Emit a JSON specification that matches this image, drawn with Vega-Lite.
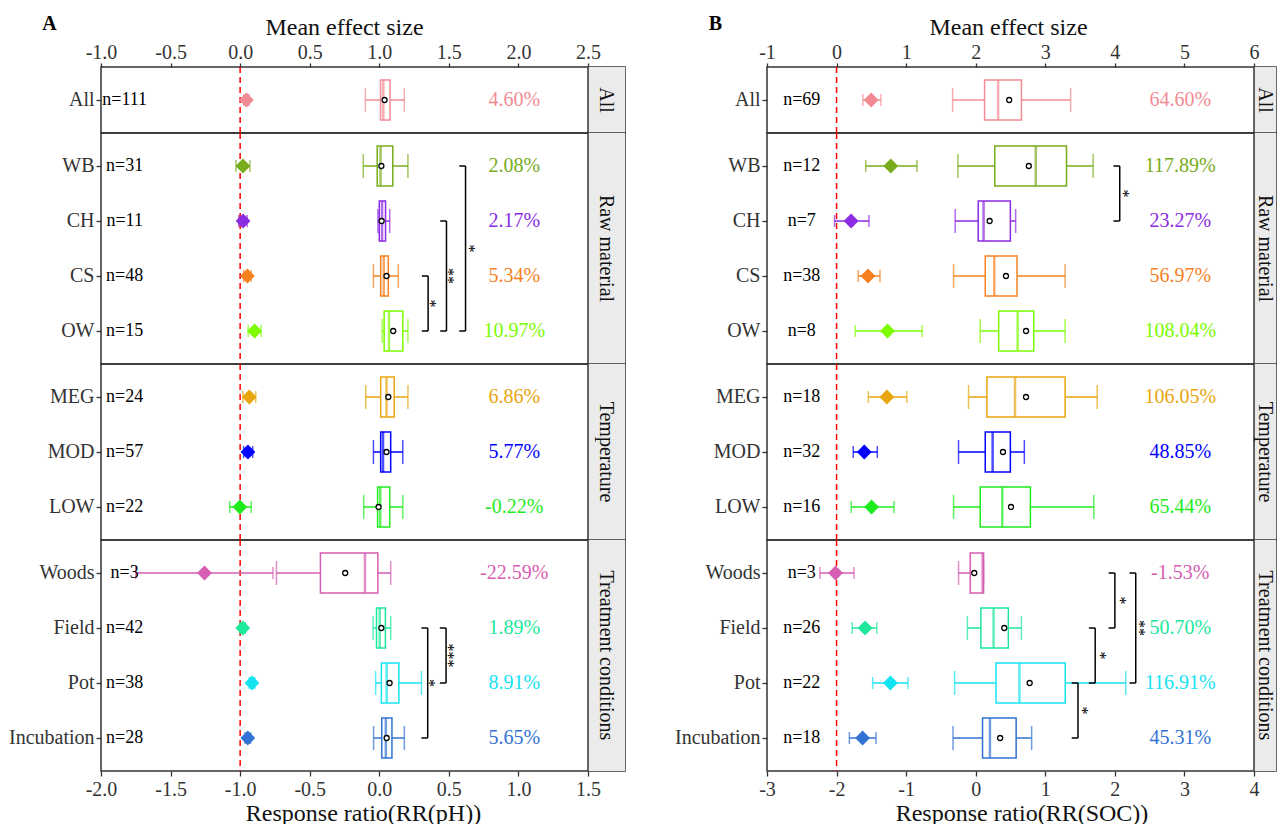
{
"$schema":"https://vega.github.io/schema/vega-lite/v6.json",
"padding":{"left":7,"top":12,"right":0,"bottom":0},
"datasets":{
"strips":[{"grp":"All"},{"grp":"Raw material"},{"grp":"Temperature"},{"grp":"Treatment conditions"}],
"A":[
{"grp":"All","cat":"All","n":"n=111","pct":"4.60%","es":0.045,"lo":0.025,"hi":0.065,"lw":-0.10,"q1":0.009,"med":0.029,"q3":0.077,"uw":0.18,"mean":0.038},
{"grp":"Raw material","cat":"WB","n":"n=31","pct":"2.08%","es":0.02,"lo":-0.03,"hi":0.07,"lw":-0.115,"q1":-0.015,"med":0.009,"q3":0.097,"uw":0.206,"mean":0.015},
{"grp":"Raw material","cat":"CH","n":"n=11","pct":"2.17%","es":0.021,"lo":-0.01,"hi":0.05,"lw":-0.01,"q1":0.0,"med":0.02,"q3":0.045,"uw":0.075,"mean":0.017},
{"grp":"Raw material","cat":"CS","n":"n=48","pct":"5.34%","es":0.052,"lo":0.025,"hi":0.08,"lw":-0.042,"q1":0.01,"med":0.032,"q3":0.065,"uw":0.137,"mean":0.052},
{"grp":"Raw material","cat":"OW","n":"n=15","pct":"10.97%","es":0.104,"lo":0.058,"hi":0.15,"lw":0.02,"q1":0.035,"med":0.07,"q3":0.169,"uw":0.206,"mean":0.1},
{"grp":"Temperature","cat":"MEG","n":"n=24","pct":"6.86%","es":0.066,"lo":0.02,"hi":0.112,"lw":-0.097,"q1":0.01,"med":0.052,"q3":0.107,"uw":0.206,"mean":0.065},
{"grp":"Temperature","cat":"MOD","n":"n=57","pct":"5.77%","es":0.056,"lo":0.025,"hi":0.09,"lw":-0.042,"q1":0.01,"med":0.027,"q3":0.082,"uw":0.169,"mean":0.052},
{"grp":"Temperature","cat":"LOW","n":"n=22","pct":"-0.22%","es":-0.002,"lo":-0.075,"hi":0.08,"lw":-0.112,"q1":-0.012,"med":0.007,"q3":0.075,"uw":0.169,"mean":-0.005},
{"grp":"Treatment conditions","cat":"Woods","n":"n=3","pct":"-22.59%","es":-0.256,"lo":-0.75,"hi":0.236,"lw":-0.739,"q1":-0.423,"med":-0.103,"q3":-0.01,"uw":0.082,"mean":-0.245},
{"grp":"Treatment conditions","cat":"Field","n":"n=42","pct":"1.89%","es":0.019,"lo":0.0,"hi":0.038,"lw":-0.044,"q1":-0.02,"med":0.003,"q3":0.044,"uw":0.082,"mean":0.015},
{"grp":"Treatment conditions","cat":"Pot","n":"n=38","pct":"8.91%","es":0.085,"lo":0.065,"hi":0.105,"lw":-0.026,"q1":0.015,"med":0.053,"q3":0.141,"uw":0.303,"mean":0.074},
{"grp":"Treatment conditions","cat":"Incubation","n":"n=28","pct":"5.65%","es":0.055,"lo":0.035,"hi":0.075,"lw":-0.041,"q1":0.018,"med":0.047,"q3":0.091,"uw":0.18,"mean":0.053}
],
"Abr":[
{"grp":"Raw material","c1":"CS","c2":"OW","bx":0.351,"bx0":0.306,"star":"*","sc":"CS","half":1,"sx":0.365},
{"grp":"Raw material","c1":"CH","c2":"OW","bx":0.483,"bx0":0.438,"star":"**","sc":"CS","half":0,"sx":0.497},
{"grp":"Raw material","c1":"WB","c2":"OW","bx":0.62,"bx0":0.575,"star":"*","sc":"CH","half":1,"sx":0.642},
{"grp":"Treatment conditions","c1":"Field","c2":"Incubation","bx":0.348,"bx0":0.303,"star":"*","sc":"Pot","half":0,"sx":0.36},
{"grp":"Treatment conditions","c1":"Field","c2":"Pot","bx":0.48,"bx0":0.435,"star":"***","sc":"Field","half":1,"sx":0.495}
],
"B":[
{"grp":"All","cat":"All","n":"n=69","pct":"64.60%","es":0.498,"lo":0.378,"hi":0.637,"lw":-0.332,"q1":0.127,"med":0.322,"q3":0.657,"uw":1.364,"mean":0.481},
{"grp":"Raw material","cat":"WB","n":"n=12","pct":"117.89%","es":0.779,"lo":0.419,"hi":1.155,"lw":-0.256,"q1":0.274,"med":0.863,"q3":1.305,"uw":1.688,"mean":0.763},
{"grp":"Raw material","cat":"CH","n":"n=7","pct":"23.27%","es":0.209,"lo":-0.029,"hi":0.466,"lw":-0.295,"q1":0.036,"med":0.113,"q3":0.498,"uw":0.574,"mean":0.2},
{"grp":"Raw material","cat":"CS","n":"n=38","pct":"56.97%","es":0.451,"lo":0.312,"hi":0.624,"lw":-0.319,"q1":0.137,"med":0.267,"q3":0.594,"uw":1.285,"mean":0.435},
{"grp":"Raw material","cat":"OW","n":"n=8","pct":"108.04%","es":0.733,"lo":0.269,"hi":1.23,"lw":0.065,"q1":0.33,"med":0.603,"q3":0.834,"uw":1.285,"mean":0.723},
{"grp":"Temperature","cat":"MEG","n":"n=18","pct":"106.05%","es":0.723,"lo":0.456,"hi":1.009,"lw":-0.103,"q1":0.161,"med":0.565,"q3":1.285,"uw":1.746,"mean":0.723},
{"grp":"Temperature","cat":"MOD","n":"n=32","pct":"48.85%","es":0.398,"lo":0.24,"hi":0.586,"lw":-0.247,"q1":0.137,"med":0.243,"q3":0.498,"uw":0.699,"mean":0.392},
{"grp":"Temperature","cat":"LOW","n":"n=16","pct":"65.44%","es":0.503,"lo":0.211,"hi":0.826,"lw":-0.319,"q1":0.065,"med":0.382,"q3":0.786,"uw":1.698,"mean":0.507},
{"grp":"Treatment conditions","cat":"Woods","n":"n=3","pct":"-1.53%","es":-0.015,"lo":-0.24,"hi":0.25,"lw":-0.247,"q1":-0.079,"med":0.099,"q3":0.113,"uw":0.113,"mean":-0.021},
{"grp":"Treatment conditions","cat":"Field","n":"n=26","pct":"50.70%","es":0.41,"lo":0.225,"hi":0.578,"lw":-0.12,"q1":0.074,"med":0.257,"q3":0.469,"uw":0.657,"mean":0.41},
{"grp":"Treatment conditions","cat":"Pot","n":"n=22","pct":"116.91%","es":0.774,"lo":0.519,"hi":1.026,"lw":-0.303,"q1":0.292,"med":0.628,"q3":1.287,"uw":2.157,"mean":0.775},
{"grp":"Treatment conditions","cat":"Incubation","n":"n=18","pct":"45.31%","es":0.374,"lo":0.184,"hi":0.567,"lw":-0.326,"q1":0.098,"med":0.204,"q3":0.581,"uw":0.804,"mean":0.351}
],
"Bbr":[
{"grp":"Raw material","c1":"WB","c2":"CH","bx":2.07,"bx0":1.98,"star":"*","sc":"WB","half":1,"sx":2.12},
{"grp":"Treatment conditions","c1":"Woods","c2":"Field","bx":2.0,"bx0":1.91,"star":"*","sc":"Woods","half":1,"sx":2.08},
{"grp":"Treatment conditions","c1":"Field","c2":"Pot","bx":1.717,"bx0":1.627,"star":"*","sc":"Field","half":1,"sx":1.785},
{"grp":"Treatment conditions","c1":"Pot","c2":"Incubation","bx":1.47,"bx0":1.38,"star":"*","sc":"Pot","half":1,"sx":1.53},
{"grp":"Treatment conditions","c1":"Woods","c2":"Pot","bx":2.30,"bx0":2.21,"star":"**","sc":"Field","half":0,"sx":2.34}
]
},
"hconcat":[
{"spacing":0,"bounds":"flush","vconcat":[
{"width":524,"height":{"step":55},"resolve":{"scale":{"x":"independent"}},"layer":[
 {"data":{"name":"strips"},"transform":[{"filter":"datum.grp=='All'"}],"layer":[
  {"mark":{"type":"rect","fill":"#EBEBEB"},"encoding":{"x":{"datum":1.5,"type":"quantitative","scale":{"domain":[-2,1.766],"nice":false,"zero":false},"axis":null},"x2":{"datum":1.766}}},
  {"mark":{"type":"rule","color":"#333","strokeWidth":1.5},"encoding":{"x":{"datum":1.5,"type":"quantitative","scale":{"domain":[-2,1.766],"nice":false,"zero":false},"axis":null}}},
  {"mark":{"type":"text","angle":90,"fontSize":20,"color":"#111","baseline":"middle"},"encoding":{"x":{"datum":1.633,"type":"quantitative","scale":{"domain":[-2,1.766],"nice":false,"zero":false},"axis":null},"text":{"field":"grp"}}}]},
 {"data":{"name":"strips"},"transform":[{"filter":"datum.grp=='All'"}],"mark":{"type":"rule","color":"#FF0000","strokeDash":[6,4],"strokeWidth":1.5},"encoding":{"x":{"datum":0,"type":"quantitative","scale":{"domain":[-1,2.766],"nice":false,"zero":false},"axis":null}}},
 {"data":{"name":"A"},"transform":[{"filter":"datum.grp=='All'"}],"encoding":{"y":{"field":"cat","type":"nominal","scale":{"type":"band","domain":["All"],"paddingInner":0,"paddingOuter":0.1},"axis":{"title":"A","titleAngle":0,"titleX":-52,"titleY":-44,"titleAlign":"center","titleBaseline":"middle","titleFontWeight":"bold","titleFontSize":20,"titleColor":"#000","tickSize":5,"labelPadding":2}},"color":{"field":"cat","type":"nominal","scale":{"domain":["All","WB","CH","CS","OW","MEG","MOD","LOW","Woods","Field","Pot","Incubation"],"range":["#F28B93","#77AC1C","#8B2BE2","#F5821F","#7CFC00","#E8A50E","#0000FF","#1EEB1E","#D65DB1","#1DE89B","#14E3F2","#3272D4"]},"legend":null}},"layer":[
  {"mark":{"type":"rule","strokeWidth":1.5},"encoding":{"x":{"field":"lo","type":"quantitative","scale":{"domain":[-1,2.766],"nice":false,"zero":false},"axis":{"orient":"top","values":[-1,-0.5,0,0.5,1,1.5,2,2.5],"labelExpr":"replace(format(datum.value,'.1f'),'\u2212','-')","title":"Mean effect size","titleX":243,"tickSize":4,"labelPadding":1,"titlePadding":3}},"x2":{"field":"hi"}}},
  {"mark":{"type":"tick","size":12,"thickness":1.5},"encoding":{"x":{"field":"lo","type":"quantitative","scale":{"domain":[-1,2.766],"nice":false,"zero":false},"axis":{"orient":"top","values":[-1,-0.5,0,0.5,1,1.5,2,2.5],"labelExpr":"replace(format(datum.value,'.1f'),'\u2212','-')","title":"Mean effect size","titleX":243,"tickSize":4,"labelPadding":1,"titlePadding":3}}}},
  {"mark":{"type":"tick","size":12,"thickness":1.5},"encoding":{"x":{"field":"hi","type":"quantitative","scale":{"domain":[-1,2.766],"nice":false,"zero":false},"axis":{"orient":"top","values":[-1,-0.5,0,0.5,1,1.5,2,2.5],"labelExpr":"replace(format(datum.value,'.1f'),'\u2212','-')","title":"Mean effect size","titleX":243,"tickSize":4,"labelPadding":1,"titlePadding":3}}}},
  {"mark":{"type":"point","shape":"diamond","filled":true,"size":220,"opacity":1},"encoding":{"x":{"field":"es","type":"quantitative","scale":{"domain":[-1,2.766],"nice":false,"zero":false},"axis":{"orient":"top","values":[-1,-0.5,0,0.5,1,1.5,2,2.5],"labelExpr":"replace(format(datum.value,'.1f'),'\u2212','-')","title":"Mean effect size","titleX":243,"tickSize":4,"labelPadding":1,"titlePadding":3}}}}]},
 {"data":{"name":"A"},"transform":[{"filter":"datum.grp=='All'"}],"encoding":{"y":{"field":"cat","type":"nominal","scale":{"type":"band","domain":["All"],"paddingInner":0,"paddingOuter":0.1},"axis":{"title":"A","titleAngle":0,"titleX":-52,"titleY":-44,"titleAlign":"center","titleBaseline":"middle","titleFontWeight":"bold","titleFontSize":20,"titleColor":"#000","tickSize":5,"labelPadding":2}},"color":{"field":"cat","type":"nominal","scale":{"domain":["All","WB","CH","CS","OW","MEG","MOD","LOW","Woods","Field","Pot","Incubation"],"range":["#F28B93","#77AC1C","#8B2BE2","#F5821F","#7CFC00","#E8A50E","#0000FF","#1EEB1E","#D65DB1","#1DE89B","#14E3F2","#3272D4"]},"legend":null}},"layer":[
  {"mark":{"type":"rule","strokeWidth":1.5},"encoding":{"x":{"field":"lw","type":"quantitative","scale":{"domain":[-2,1.766],"nice":false,"zero":false},"axis":null},"x2":{"field":"uw"}}},
  {"mark":{"type":"tick","size":24,"thickness":1.5},"encoding":{"x":{"field":"lw","type":"quantitative","scale":{"domain":[-2,1.766],"nice":false,"zero":false},"axis":null}}},
  {"mark":{"type":"tick","size":24,"thickness":1.5},"encoding":{"x":{"field":"uw","type":"quantitative","scale":{"domain":[-2,1.766],"nice":false,"zero":false},"axis":null}}},
  {"mark":{"type":"bar","size":40,"strokeWidth":1.5},"encoding":{"x":{"field":"q1","type":"quantitative","scale":{"domain":[-2,1.766],"nice":false,"zero":false},"axis":null},"x2":{"field":"q3"},"fill":{"value":"white"},"stroke":{"field":"cat","type":"nominal","scale":{"domain":["All","WB","CH","CS","OW","MEG","MOD","LOW","Woods","Field","Pot","Incubation"],"range":["#F28B93","#77AC1C","#8B2BE2","#F5821F","#7CFC00","#E8A50E","#0000FF","#1EEB1E","#D65DB1","#1DE89B","#14E3F2","#3272D4"]},"legend":null}}},
  {"mark":{"type":"tick","size":40,"thickness":2.5},"encoding":{"x":{"field":"med","type":"quantitative","scale":{"domain":[-2,1.766],"nice":false,"zero":false},"axis":null}}},
  {"mark":{"type":"point","shape":"circle","size":25,"strokeWidth":1.3,"opacity":1},"encoding":{"x":{"field":"mean","type":"quantitative","scale":{"domain":[-2,1.766],"nice":false,"zero":false},"axis":null},"fill":{"value":"white"},"stroke":{"value":"black"}}},
  {"mark":{"type":"text","fontSize":18},"encoding":{"x":{"datum":-1.83,"type":"quantitative","scale":{"domain":[-2,1.766],"nice":false,"zero":false},"axis":null},"text":{"field":"n"},"color":{"value":"black"}}},
  {"mark":{"type":"text","fontSize":20},"encoding":{"x":{"datum":0.97,"type":"quantitative","scale":{"domain":[-2,1.766],"nice":false,"zero":false},"axis":null},"text":{"field":"pct"}}}]}
]},
{"width":524,"height":{"step":55},"resolve":{"scale":{"x":"independent"}},"layer":[
 {"data":{"name":"strips"},"transform":[{"filter":"datum.grp=='Raw material'"}],"layer":[
  {"mark":{"type":"rect","fill":"#EBEBEB"},"encoding":{"x":{"datum":1.5,"type":"quantitative","scale":{"domain":[-2,1.766],"nice":false,"zero":false},"axis":null},"x2":{"datum":1.766}}},
  {"mark":{"type":"rule","color":"#333","strokeWidth":1.5},"encoding":{"x":{"datum":1.5,"type":"quantitative","scale":{"domain":[-2,1.766],"nice":false,"zero":false},"axis":null}}},
  {"mark":{"type":"text","angle":90,"fontSize":20,"color":"#111","baseline":"middle"},"encoding":{"x":{"datum":1.633,"type":"quantitative","scale":{"domain":[-2,1.766],"nice":false,"zero":false},"axis":null},"text":{"field":"grp"}}}]},
 {"data":{"name":"strips"},"transform":[{"filter":"datum.grp=='Raw material'"}],"mark":{"type":"rule","color":"#FF0000","strokeDash":[6,4],"strokeWidth":1.5},"encoding":{"x":{"datum":0,"type":"quantitative","scale":{"domain":[-1,2.766],"nice":false,"zero":false},"axis":null}}},
 {"data":{"name":"A"},"transform":[{"filter":"datum.grp=='Raw material'"}],"encoding":{"y":{"field":"cat","type":"nominal","scale":{"type":"band","domain":["WB","CH","CS","OW"],"paddingInner":0,"paddingOuter":0.1},"axis":{"title":null,"tickSize":5,"labelPadding":2}},"color":{"field":"cat","type":"nominal","scale":{"domain":["All","WB","CH","CS","OW","MEG","MOD","LOW","Woods","Field","Pot","Incubation"],"range":["#F28B93","#77AC1C","#8B2BE2","#F5821F","#7CFC00","#E8A50E","#0000FF","#1EEB1E","#D65DB1","#1DE89B","#14E3F2","#3272D4"]},"legend":null}},"layer":[
  {"mark":{"type":"rule","strokeWidth":1.5},"encoding":{"x":{"field":"lo","type":"quantitative","scale":{"domain":[-1,2.766],"nice":false,"zero":false},"axis":null},"x2":{"field":"hi"}}},
  {"mark":{"type":"tick","size":12,"thickness":1.5},"encoding":{"x":{"field":"lo","type":"quantitative","scale":{"domain":[-1,2.766],"nice":false,"zero":false},"axis":null}}},
  {"mark":{"type":"tick","size":12,"thickness":1.5},"encoding":{"x":{"field":"hi","type":"quantitative","scale":{"domain":[-1,2.766],"nice":false,"zero":false},"axis":null}}},
  {"mark":{"type":"point","shape":"diamond","filled":true,"size":220,"opacity":1},"encoding":{"x":{"field":"es","type":"quantitative","scale":{"domain":[-1,2.766],"nice":false,"zero":false},"axis":null}}}]},
 {"data":{"name":"A"},"transform":[{"filter":"datum.grp=='Raw material'"}],"encoding":{"y":{"field":"cat","type":"nominal","scale":{"type":"band","domain":["WB","CH","CS","OW"],"paddingInner":0,"paddingOuter":0.1},"axis":{"title":null,"tickSize":5,"labelPadding":2}},"color":{"field":"cat","type":"nominal","scale":{"domain":["All","WB","CH","CS","OW","MEG","MOD","LOW","Woods","Field","Pot","Incubation"],"range":["#F28B93","#77AC1C","#8B2BE2","#F5821F","#7CFC00","#E8A50E","#0000FF","#1EEB1E","#D65DB1","#1DE89B","#14E3F2","#3272D4"]},"legend":null}},"layer":[
  {"mark":{"type":"rule","strokeWidth":1.5},"encoding":{"x":{"field":"lw","type":"quantitative","scale":{"domain":[-2,1.766],"nice":false,"zero":false},"axis":null},"x2":{"field":"uw"}}},
  {"mark":{"type":"tick","size":24,"thickness":1.5},"encoding":{"x":{"field":"lw","type":"quantitative","scale":{"domain":[-2,1.766],"nice":false,"zero":false},"axis":null}}},
  {"mark":{"type":"tick","size":24,"thickness":1.5},"encoding":{"x":{"field":"uw","type":"quantitative","scale":{"domain":[-2,1.766],"nice":false,"zero":false},"axis":null}}},
  {"mark":{"type":"bar","size":40,"strokeWidth":1.5},"encoding":{"x":{"field":"q1","type":"quantitative","scale":{"domain":[-2,1.766],"nice":false,"zero":false},"axis":null},"x2":{"field":"q3"},"fill":{"value":"white"},"stroke":{"field":"cat","type":"nominal","scale":{"domain":["All","WB","CH","CS","OW","MEG","MOD","LOW","Woods","Field","Pot","Incubation"],"range":["#F28B93","#77AC1C","#8B2BE2","#F5821F","#7CFC00","#E8A50E","#0000FF","#1EEB1E","#D65DB1","#1DE89B","#14E3F2","#3272D4"]},"legend":null}}},
  {"mark":{"type":"tick","size":40,"thickness":2.5},"encoding":{"x":{"field":"med","type":"quantitative","scale":{"domain":[-2,1.766],"nice":false,"zero":false},"axis":null}}},
  {"mark":{"type":"point","shape":"circle","size":25,"strokeWidth":1.3,"opacity":1},"encoding":{"x":{"field":"mean","type":"quantitative","scale":{"domain":[-2,1.766],"nice":false,"zero":false},"axis":null},"fill":{"value":"white"},"stroke":{"value":"black"}}},
  {"mark":{"type":"text","fontSize":18},"encoding":{"x":{"datum":-1.83,"type":"quantitative","scale":{"domain":[-2,1.766],"nice":false,"zero":false},"axis":null},"text":{"field":"n"},"color":{"value":"black"}}},
  {"mark":{"type":"text","fontSize":20},"encoding":{"x":{"datum":0.97,"type":"quantitative","scale":{"domain":[-2,1.766],"nice":false,"zero":false},"axis":null},"text":{"field":"pct"}}},
  {"data":{"name":"Abr"},"transform":[{"filter":"datum.grp=='Raw material'"}],"layer":[
   {"mark":{"type":"rule","strokeWidth":1.5},"encoding":{"x":{"field":"bx","type":"quantitative","scale":{"domain":[-2,1.766],"nice":false,"zero":false},"axis":null},"y":{"field":"c1","type":"nominal","scale":{"type":"band","domain":["WB","CH","CS","OW"],"paddingInner":0,"paddingOuter":0.1},"axis":{"title":null,"tickSize":5,"labelPadding":2}},"y2":{"field":"c2"},"color":{"value":"black"}}},
   {"mark":{"type":"rule","strokeWidth":1.5},"encoding":{"x":{"field":"bx0","type":"quantitative","scale":{"domain":[-2,1.766],"nice":false,"zero":false},"axis":null},"x2":{"field":"bx"},"y":{"field":"c1","type":"nominal","scale":{"type":"band","domain":["WB","CH","CS","OW"],"paddingInner":0,"paddingOuter":0.1},"axis":{"title":null,"tickSize":5,"labelPadding":2}},"color":{"value":"black"}}},
   {"mark":{"type":"rule","strokeWidth":1.5},"encoding":{"x":{"field":"bx0","type":"quantitative","scale":{"domain":[-2,1.766],"nice":false,"zero":false},"axis":null},"x2":{"field":"bx"},"y":{"field":"c2","type":"nominal","scale":{"type":"band","domain":["WB","CH","CS","OW"],"paddingInner":0,"paddingOuter":0.1},"axis":{"title":null,"tickSize":5,"labelPadding":2}},"color":{"value":"black"}}},
   {"transform":[{"filter":"datum.half==0"}],"mark":{"type":"text","fontSize":16,"angle":90,"baseline":"middle"},"encoding":{"x":{"field":"sx","type":"quantitative","scale":{"domain":[-2,1.766],"nice":false,"zero":false},"axis":null},"y":{"field":"sc","type":"nominal","scale":{"type":"band","domain":["WB","CH","CS","OW"],"paddingInner":0,"paddingOuter":0.1},"axis":{"title":null,"tickSize":5,"labelPadding":2}},"text":{"field":"star"},"color":{"value":"black"}}},
   {"transform":[{"filter":"datum.half==1"}],"mark":{"type":"text","fontSize":16,"angle":90,"baseline":"middle","dx":27.5},"encoding":{"x":{"field":"sx","type":"quantitative","scale":{"domain":[-2,1.766],"nice":false,"zero":false},"axis":null},"y":{"field":"sc","type":"nominal","scale":{"type":"band","domain":["WB","CH","CS","OW"],"paddingInner":0,"paddingOuter":0.1},"axis":{"title":null,"tickSize":5,"labelPadding":2}},"text":{"field":"star"},"color":{"value":"black"}}}]}]}
]},
{"width":524,"height":{"step":55},"resolve":{"scale":{"x":"independent"}},"layer":[
 {"data":{"name":"strips"},"transform":[{"filter":"datum.grp=='Temperature'"}],"layer":[
  {"mark":{"type":"rect","fill":"#EBEBEB"},"encoding":{"x":{"datum":1.5,"type":"quantitative","scale":{"domain":[-2,1.766],"nice":false,"zero":false},"axis":null},"x2":{"datum":1.766}}},
  {"mark":{"type":"rule","color":"#333","strokeWidth":1.5},"encoding":{"x":{"datum":1.5,"type":"quantitative","scale":{"domain":[-2,1.766],"nice":false,"zero":false},"axis":null}}},
  {"mark":{"type":"text","angle":90,"fontSize":20,"color":"#111","baseline":"middle"},"encoding":{"x":{"datum":1.633,"type":"quantitative","scale":{"domain":[-2,1.766],"nice":false,"zero":false},"axis":null},"text":{"field":"grp"}}}]},
 {"data":{"name":"strips"},"transform":[{"filter":"datum.grp=='Temperature'"}],"mark":{"type":"rule","color":"#FF0000","strokeDash":[6,4],"strokeWidth":1.5},"encoding":{"x":{"datum":0,"type":"quantitative","scale":{"domain":[-1,2.766],"nice":false,"zero":false},"axis":null}}},
 {"data":{"name":"A"},"transform":[{"filter":"datum.grp=='Temperature'"}],"encoding":{"y":{"field":"cat","type":"nominal","scale":{"type":"band","domain":["MEG","MOD","LOW"],"paddingInner":0,"paddingOuter":0.1},"axis":{"title":null,"tickSize":5,"labelPadding":2}},"color":{"field":"cat","type":"nominal","scale":{"domain":["All","WB","CH","CS","OW","MEG","MOD","LOW","Woods","Field","Pot","Incubation"],"range":["#F28B93","#77AC1C","#8B2BE2","#F5821F","#7CFC00","#E8A50E","#0000FF","#1EEB1E","#D65DB1","#1DE89B","#14E3F2","#3272D4"]},"legend":null}},"layer":[
  {"mark":{"type":"rule","strokeWidth":1.5},"encoding":{"x":{"field":"lo","type":"quantitative","scale":{"domain":[-1,2.766],"nice":false,"zero":false},"axis":null},"x2":{"field":"hi"}}},
  {"mark":{"type":"tick","size":12,"thickness":1.5},"encoding":{"x":{"field":"lo","type":"quantitative","scale":{"domain":[-1,2.766],"nice":false,"zero":false},"axis":null}}},
  {"mark":{"type":"tick","size":12,"thickness":1.5},"encoding":{"x":{"field":"hi","type":"quantitative","scale":{"domain":[-1,2.766],"nice":false,"zero":false},"axis":null}}},
  {"mark":{"type":"point","shape":"diamond","filled":true,"size":220,"opacity":1},"encoding":{"x":{"field":"es","type":"quantitative","scale":{"domain":[-1,2.766],"nice":false,"zero":false},"axis":null}}}]},
 {"data":{"name":"A"},"transform":[{"filter":"datum.grp=='Temperature'"}],"encoding":{"y":{"field":"cat","type":"nominal","scale":{"type":"band","domain":["MEG","MOD","LOW"],"paddingInner":0,"paddingOuter":0.1},"axis":{"title":null,"tickSize":5,"labelPadding":2}},"color":{"field":"cat","type":"nominal","scale":{"domain":["All","WB","CH","CS","OW","MEG","MOD","LOW","Woods","Field","Pot","Incubation"],"range":["#F28B93","#77AC1C","#8B2BE2","#F5821F","#7CFC00","#E8A50E","#0000FF","#1EEB1E","#D65DB1","#1DE89B","#14E3F2","#3272D4"]},"legend":null}},"layer":[
  {"mark":{"type":"rule","strokeWidth":1.5},"encoding":{"x":{"field":"lw","type":"quantitative","scale":{"domain":[-2,1.766],"nice":false,"zero":false},"axis":null},"x2":{"field":"uw"}}},
  {"mark":{"type":"tick","size":24,"thickness":1.5},"encoding":{"x":{"field":"lw","type":"quantitative","scale":{"domain":[-2,1.766],"nice":false,"zero":false},"axis":null}}},
  {"mark":{"type":"tick","size":24,"thickness":1.5},"encoding":{"x":{"field":"uw","type":"quantitative","scale":{"domain":[-2,1.766],"nice":false,"zero":false},"axis":null}}},
  {"mark":{"type":"bar","size":40,"strokeWidth":1.5},"encoding":{"x":{"field":"q1","type":"quantitative","scale":{"domain":[-2,1.766],"nice":false,"zero":false},"axis":null},"x2":{"field":"q3"},"fill":{"value":"white"},"stroke":{"field":"cat","type":"nominal","scale":{"domain":["All","WB","CH","CS","OW","MEG","MOD","LOW","Woods","Field","Pot","Incubation"],"range":["#F28B93","#77AC1C","#8B2BE2","#F5821F","#7CFC00","#E8A50E","#0000FF","#1EEB1E","#D65DB1","#1DE89B","#14E3F2","#3272D4"]},"legend":null}}},
  {"mark":{"type":"tick","size":40,"thickness":2.5},"encoding":{"x":{"field":"med","type":"quantitative","scale":{"domain":[-2,1.766],"nice":false,"zero":false},"axis":null}}},
  {"mark":{"type":"point","shape":"circle","size":25,"strokeWidth":1.3,"opacity":1},"encoding":{"x":{"field":"mean","type":"quantitative","scale":{"domain":[-2,1.766],"nice":false,"zero":false},"axis":null},"fill":{"value":"white"},"stroke":{"value":"black"}}},
  {"mark":{"type":"text","fontSize":18},"encoding":{"x":{"datum":-1.83,"type":"quantitative","scale":{"domain":[-2,1.766],"nice":false,"zero":false},"axis":null},"text":{"field":"n"},"color":{"value":"black"}}},
  {"mark":{"type":"text","fontSize":20},"encoding":{"x":{"datum":0.97,"type":"quantitative","scale":{"domain":[-2,1.766],"nice":false,"zero":false},"axis":null},"text":{"field":"pct"}}}]}
]},
{"width":524,"height":{"step":55},"resolve":{"scale":{"x":"independent"}},"layer":[
 {"data":{"name":"strips"},"transform":[{"filter":"datum.grp=='Treatment conditions'"}],"layer":[
  {"mark":{"type":"rect","fill":"#EBEBEB"},"encoding":{"x":{"datum":1.5,"type":"quantitative","scale":{"domain":[-2,1.766],"nice":false,"zero":false},"axis":null},"x2":{"datum":1.766}}},
  {"mark":{"type":"rule","color":"#333","strokeWidth":1.5},"encoding":{"x":{"datum":1.5,"type":"quantitative","scale":{"domain":[-2,1.766],"nice":false,"zero":false},"axis":null}}},
  {"mark":{"type":"text","angle":90,"fontSize":20,"color":"#111","baseline":"middle"},"encoding":{"x":{"datum":1.633,"type":"quantitative","scale":{"domain":[-2,1.766],"nice":false,"zero":false},"axis":null},"text":{"field":"grp"}}}]},
 {"data":{"name":"strips"},"transform":[{"filter":"datum.grp=='Treatment conditions'"}],"mark":{"type":"rule","color":"#FF0000","strokeDash":[6,4],"strokeWidth":1.5},"encoding":{"x":{"datum":0,"type":"quantitative","scale":{"domain":[-1,2.766],"nice":false,"zero":false},"axis":null}}},
 {"data":{"name":"A"},"transform":[{"filter":"datum.grp=='Treatment conditions'"}],"encoding":{"y":{"field":"cat","type":"nominal","scale":{"type":"band","domain":["Woods","Field","Pot","Incubation"],"paddingInner":0,"paddingOuter":0.1},"axis":{"title":null,"tickSize":5,"labelPadding":2}},"color":{"field":"cat","type":"nominal","scale":{"domain":["All","WB","CH","CS","OW","MEG","MOD","LOW","Woods","Field","Pot","Incubation"],"range":["#F28B93","#77AC1C","#8B2BE2","#F5821F","#7CFC00","#E8A50E","#0000FF","#1EEB1E","#D65DB1","#1DE89B","#14E3F2","#3272D4"]},"legend":null}},"layer":[
  {"mark":{"type":"rule","strokeWidth":1.5},"encoding":{"x":{"field":"lo","type":"quantitative","scale":{"domain":[-1,2.766],"nice":false,"zero":false},"axis":null},"x2":{"field":"hi"}}},
  {"mark":{"type":"tick","size":12,"thickness":1.5},"encoding":{"x":{"field":"lo","type":"quantitative","scale":{"domain":[-1,2.766],"nice":false,"zero":false},"axis":null}}},
  {"mark":{"type":"tick","size":12,"thickness":1.5},"encoding":{"x":{"field":"hi","type":"quantitative","scale":{"domain":[-1,2.766],"nice":false,"zero":false},"axis":null}}},
  {"mark":{"type":"point","shape":"diamond","filled":true,"size":220,"opacity":1},"encoding":{"x":{"field":"es","type":"quantitative","scale":{"domain":[-1,2.766],"nice":false,"zero":false},"axis":null}}}]},
 {"data":{"name":"A"},"transform":[{"filter":"datum.grp=='Treatment conditions'"}],"encoding":{"y":{"field":"cat","type":"nominal","scale":{"type":"band","domain":["Woods","Field","Pot","Incubation"],"paddingInner":0,"paddingOuter":0.1},"axis":{"title":null,"tickSize":5,"labelPadding":2}},"color":{"field":"cat","type":"nominal","scale":{"domain":["All","WB","CH","CS","OW","MEG","MOD","LOW","Woods","Field","Pot","Incubation"],"range":["#F28B93","#77AC1C","#8B2BE2","#F5821F","#7CFC00","#E8A50E","#0000FF","#1EEB1E","#D65DB1","#1DE89B","#14E3F2","#3272D4"]},"legend":null}},"layer":[
  {"mark":{"type":"rule","strokeWidth":1.5},"encoding":{"x":{"field":"lw","type":"quantitative","scale":{"domain":[-2,1.766],"nice":false,"zero":false},"axis":{"orient":"bottom","values":[-2,-1.5,-1,-0.5,0,0.5,1,1.5],"labelExpr":"replace(format(datum.value,'.1f'),'\u2212','-')","title":"Response ratio(RR(pH))","tickSize":5,"labelPadding":3,"titlePadding":2}},"x2":{"field":"uw"}}},
  {"mark":{"type":"tick","size":24,"thickness":1.5},"encoding":{"x":{"field":"lw","type":"quantitative","scale":{"domain":[-2,1.766],"nice":false,"zero":false},"axis":{"orient":"bottom","values":[-2,-1.5,-1,-0.5,0,0.5,1,1.5],"labelExpr":"replace(format(datum.value,'.1f'),'\u2212','-')","title":"Response ratio(RR(pH))","tickSize":5,"labelPadding":3,"titlePadding":2}}}},
  {"mark":{"type":"tick","size":24,"thickness":1.5},"encoding":{"x":{"field":"uw","type":"quantitative","scale":{"domain":[-2,1.766],"nice":false,"zero":false},"axis":{"orient":"bottom","values":[-2,-1.5,-1,-0.5,0,0.5,1,1.5],"labelExpr":"replace(format(datum.value,'.1f'),'\u2212','-')","title":"Response ratio(RR(pH))","tickSize":5,"labelPadding":3,"titlePadding":2}}}},
  {"mark":{"type":"bar","size":40,"strokeWidth":1.5},"encoding":{"x":{"field":"q1","type":"quantitative","scale":{"domain":[-2,1.766],"nice":false,"zero":false},"axis":{"orient":"bottom","values":[-2,-1.5,-1,-0.5,0,0.5,1,1.5],"labelExpr":"replace(format(datum.value,'.1f'),'\u2212','-')","title":"Response ratio(RR(pH))","tickSize":5,"labelPadding":3,"titlePadding":2}},"x2":{"field":"q3"},"fill":{"value":"white"},"stroke":{"field":"cat","type":"nominal","scale":{"domain":["All","WB","CH","CS","OW","MEG","MOD","LOW","Woods","Field","Pot","Incubation"],"range":["#F28B93","#77AC1C","#8B2BE2","#F5821F","#7CFC00","#E8A50E","#0000FF","#1EEB1E","#D65DB1","#1DE89B","#14E3F2","#3272D4"]},"legend":null}}},
  {"mark":{"type":"tick","size":40,"thickness":2.5},"encoding":{"x":{"field":"med","type":"quantitative","scale":{"domain":[-2,1.766],"nice":false,"zero":false},"axis":{"orient":"bottom","values":[-2,-1.5,-1,-0.5,0,0.5,1,1.5],"labelExpr":"replace(format(datum.value,'.1f'),'\u2212','-')","title":"Response ratio(RR(pH))","tickSize":5,"labelPadding":3,"titlePadding":2}}}},
  {"mark":{"type":"point","shape":"circle","size":25,"strokeWidth":1.3,"opacity":1},"encoding":{"x":{"field":"mean","type":"quantitative","scale":{"domain":[-2,1.766],"nice":false,"zero":false},"axis":{"orient":"bottom","values":[-2,-1.5,-1,-0.5,0,0.5,1,1.5],"labelExpr":"replace(format(datum.value,'.1f'),'\u2212','-')","title":"Response ratio(RR(pH))","tickSize":5,"labelPadding":3,"titlePadding":2}},"fill":{"value":"white"},"stroke":{"value":"black"}}},
  {"mark":{"type":"text","fontSize":18},"encoding":{"x":{"datum":-1.83,"type":"quantitative","scale":{"domain":[-2,1.766],"nice":false,"zero":false},"axis":{"orient":"bottom","values":[-2,-1.5,-1,-0.5,0,0.5,1,1.5],"labelExpr":"replace(format(datum.value,'.1f'),'\u2212','-')","title":"Response ratio(RR(pH))","tickSize":5,"labelPadding":3,"titlePadding":2}},"text":{"field":"n"},"color":{"value":"black"}}},
  {"mark":{"type":"text","fontSize":20},"encoding":{"x":{"datum":0.97,"type":"quantitative","scale":{"domain":[-2,1.766],"nice":false,"zero":false},"axis":{"orient":"bottom","values":[-2,-1.5,-1,-0.5,0,0.5,1,1.5],"labelExpr":"replace(format(datum.value,'.1f'),'\u2212','-')","title":"Response ratio(RR(pH))","tickSize":5,"labelPadding":3,"titlePadding":2}},"text":{"field":"pct"}}},
  {"data":{"name":"Abr"},"transform":[{"filter":"datum.grp=='Treatment conditions'"}],"layer":[
   {"mark":{"type":"rule","strokeWidth":1.5},"encoding":{"x":{"field":"bx","type":"quantitative","scale":{"domain":[-2,1.766],"nice":false,"zero":false},"axis":{"orient":"bottom","values":[-2,-1.5,-1,-0.5,0,0.5,1,1.5],"labelExpr":"replace(format(datum.value,'.1f'),'\u2212','-')","title":"Response ratio(RR(pH))","tickSize":5,"labelPadding":3,"titlePadding":2}},"y":{"field":"c1","type":"nominal","scale":{"type":"band","domain":["Woods","Field","Pot","Incubation"],"paddingInner":0,"paddingOuter":0.1},"axis":{"title":null,"tickSize":5,"labelPadding":2}},"y2":{"field":"c2"},"color":{"value":"black"}}},
   {"mark":{"type":"rule","strokeWidth":1.5},"encoding":{"x":{"field":"bx0","type":"quantitative","scale":{"domain":[-2,1.766],"nice":false,"zero":false},"axis":{"orient":"bottom","values":[-2,-1.5,-1,-0.5,0,0.5,1,1.5],"labelExpr":"replace(format(datum.value,'.1f'),'\u2212','-')","title":"Response ratio(RR(pH))","tickSize":5,"labelPadding":3,"titlePadding":2}},"x2":{"field":"bx"},"y":{"field":"c1","type":"nominal","scale":{"type":"band","domain":["Woods","Field","Pot","Incubation"],"paddingInner":0,"paddingOuter":0.1},"axis":{"title":null,"tickSize":5,"labelPadding":2}},"color":{"value":"black"}}},
   {"mark":{"type":"rule","strokeWidth":1.5},"encoding":{"x":{"field":"bx0","type":"quantitative","scale":{"domain":[-2,1.766],"nice":false,"zero":false},"axis":{"orient":"bottom","values":[-2,-1.5,-1,-0.5,0,0.5,1,1.5],"labelExpr":"replace(format(datum.value,'.1f'),'\u2212','-')","title":"Response ratio(RR(pH))","tickSize":5,"labelPadding":3,"titlePadding":2}},"x2":{"field":"bx"},"y":{"field":"c2","type":"nominal","scale":{"type":"band","domain":["Woods","Field","Pot","Incubation"],"paddingInner":0,"paddingOuter":0.1},"axis":{"title":null,"tickSize":5,"labelPadding":2}},"color":{"value":"black"}}},
   {"transform":[{"filter":"datum.half==0"}],"mark":{"type":"text","fontSize":16,"angle":90,"baseline":"middle"},"encoding":{"x":{"field":"sx","type":"quantitative","scale":{"domain":[-2,1.766],"nice":false,"zero":false},"axis":{"orient":"bottom","values":[-2,-1.5,-1,-0.5,0,0.5,1,1.5],"labelExpr":"replace(format(datum.value,'.1f'),'\u2212','-')","title":"Response ratio(RR(pH))","tickSize":5,"labelPadding":3,"titlePadding":2}},"y":{"field":"sc","type":"nominal","scale":{"type":"band","domain":["Woods","Field","Pot","Incubation"],"paddingInner":0,"paddingOuter":0.1},"axis":{"title":null,"tickSize":5,"labelPadding":2}},"text":{"field":"star"},"color":{"value":"black"}}},
   {"transform":[{"filter":"datum.half==1"}],"mark":{"type":"text","fontSize":16,"angle":90,"baseline":"middle","dx":27.5},"encoding":{"x":{"field":"sx","type":"quantitative","scale":{"domain":[-2,1.766],"nice":false,"zero":false},"axis":{"orient":"bottom","values":[-2,-1.5,-1,-0.5,0,0.5,1,1.5],"labelExpr":"replace(format(datum.value,'.1f'),'\u2212','-')","title":"Response ratio(RR(pH))","tickSize":5,"labelPadding":3,"titlePadding":2}},"y":{"field":"sc","type":"nominal","scale":{"type":"band","domain":["Woods","Field","Pot","Incubation"],"paddingInner":0,"paddingOuter":0.1},"axis":{"title":null,"tickSize":5,"labelPadding":2}},"text":{"field":"star"},"color":{"value":"black"}}}]}]}
]}
]},
{"spacing":0,"bounds":"flush","vconcat":[
{"width":509,"height":{"step":55},"resolve":{"scale":{"x":"independent"}},"layer":[
 {"data":{"name":"strips"},"transform":[{"filter":"datum.grp=='All'"}],"layer":[
  {"mark":{"type":"rect","fill":"#EBEBEB"},"encoding":{"x":{"datum":4,"type":"quantitative","scale":{"domain":[-3,4.316],"nice":false,"zero":false},"axis":null},"x2":{"datum":4.316}}},
  {"mark":{"type":"rule","color":"#333","strokeWidth":1.5},"encoding":{"x":{"datum":4,"type":"quantitative","scale":{"domain":[-3,4.316],"nice":false,"zero":false},"axis":null}}},
  {"mark":{"type":"text","angle":90,"fontSize":20,"color":"#111","baseline":"middle"},"encoding":{"x":{"datum":4.158,"type":"quantitative","scale":{"domain":[-3,4.316],"nice":false,"zero":false},"axis":null},"text":{"field":"grp"}}}]},
 {"data":{"name":"strips"},"transform":[{"filter":"datum.grp=='All'"}],"mark":{"type":"rule","color":"#FF0000","strokeDash":[6,4],"strokeWidth":1.5},"encoding":{"x":{"datum":0,"type":"quantitative","scale":{"domain":[-1,6.316],"nice":false,"zero":false},"axis":null}}},
 {"data":{"name":"B"},"transform":[{"filter":"datum.grp=='All'"}],"encoding":{"y":{"field":"cat","type":"nominal","scale":{"type":"band","domain":["All"],"paddingInner":0,"paddingOuter":0.1},"axis":{"title":"B","titleAngle":0,"titleX":-52,"titleY":-44,"titleAlign":"center","titleBaseline":"middle","titleFontWeight":"bold","titleFontSize":20,"titleColor":"#000","tickSize":5,"labelPadding":2}},"color":{"field":"cat","type":"nominal","scale":{"domain":["All","WB","CH","CS","OW","MEG","MOD","LOW","Woods","Field","Pot","Incubation"],"range":["#F28B93","#77AC1C","#8B2BE2","#F5821F","#7CFC00","#E8A50E","#0000FF","#1EEB1E","#D65DB1","#1DE89B","#14E3F2","#3272D4"]},"legend":null}},"layer":[
  {"mark":{"type":"rule","strokeWidth":1.5},"encoding":{"x":{"field":"lo","type":"quantitative","scale":{"domain":[-1,6.316],"nice":false,"zero":false},"axis":{"orient":"top","values":[-1,0,1,2,3,4,5,6],"labelExpr":"replace(format(datum.value,'d'),'\u2212','-')","title":"Mean effect size","titleX":241,"tickSize":4,"labelPadding":1,"titlePadding":3}},"x2":{"field":"hi"}}},
  {"mark":{"type":"tick","size":12,"thickness":1.5},"encoding":{"x":{"field":"lo","type":"quantitative","scale":{"domain":[-1,6.316],"nice":false,"zero":false},"axis":{"orient":"top","values":[-1,0,1,2,3,4,5,6],"labelExpr":"replace(format(datum.value,'d'),'\u2212','-')","title":"Mean effect size","titleX":241,"tickSize":4,"labelPadding":1,"titlePadding":3}}}},
  {"mark":{"type":"tick","size":12,"thickness":1.5},"encoding":{"x":{"field":"hi","type":"quantitative","scale":{"domain":[-1,6.316],"nice":false,"zero":false},"axis":{"orient":"top","values":[-1,0,1,2,3,4,5,6],"labelExpr":"replace(format(datum.value,'d'),'\u2212','-')","title":"Mean effect size","titleX":241,"tickSize":4,"labelPadding":1,"titlePadding":3}}}},
  {"mark":{"type":"point","shape":"diamond","filled":true,"size":220,"opacity":1},"encoding":{"x":{"field":"es","type":"quantitative","scale":{"domain":[-1,6.316],"nice":false,"zero":false},"axis":{"orient":"top","values":[-1,0,1,2,3,4,5,6],"labelExpr":"replace(format(datum.value,'d'),'\u2212','-')","title":"Mean effect size","titleX":241,"tickSize":4,"labelPadding":1,"titlePadding":3}}}}]},
 {"data":{"name":"B"},"transform":[{"filter":"datum.grp=='All'"}],"encoding":{"y":{"field":"cat","type":"nominal","scale":{"type":"band","domain":["All"],"paddingInner":0,"paddingOuter":0.1},"axis":{"title":"B","titleAngle":0,"titleX":-52,"titleY":-44,"titleAlign":"center","titleBaseline":"middle","titleFontWeight":"bold","titleFontSize":20,"titleColor":"#000","tickSize":5,"labelPadding":2}},"color":{"field":"cat","type":"nominal","scale":{"domain":["All","WB","CH","CS","OW","MEG","MOD","LOW","Woods","Field","Pot","Incubation"],"range":["#F28B93","#77AC1C","#8B2BE2","#F5821F","#7CFC00","#E8A50E","#0000FF","#1EEB1E","#D65DB1","#1DE89B","#14E3F2","#3272D4"]},"legend":null}},"layer":[
  {"mark":{"type":"rule","strokeWidth":1.5},"encoding":{"x":{"field":"lw","type":"quantitative","scale":{"domain":[-3,4.316],"nice":false,"zero":false},"axis":null},"x2":{"field":"uw"}}},
  {"mark":{"type":"tick","size":24,"thickness":1.5},"encoding":{"x":{"field":"lw","type":"quantitative","scale":{"domain":[-3,4.316],"nice":false,"zero":false},"axis":null}}},
  {"mark":{"type":"tick","size":24,"thickness":1.5},"encoding":{"x":{"field":"uw","type":"quantitative","scale":{"domain":[-3,4.316],"nice":false,"zero":false},"axis":null}}},
  {"mark":{"type":"bar","size":40,"strokeWidth":1.5},"encoding":{"x":{"field":"q1","type":"quantitative","scale":{"domain":[-3,4.316],"nice":false,"zero":false},"axis":null},"x2":{"field":"q3"},"fill":{"value":"white"},"stroke":{"field":"cat","type":"nominal","scale":{"domain":["All","WB","CH","CS","OW","MEG","MOD","LOW","Woods","Field","Pot","Incubation"],"range":["#F28B93","#77AC1C","#8B2BE2","#F5821F","#7CFC00","#E8A50E","#0000FF","#1EEB1E","#D65DB1","#1DE89B","#14E3F2","#3272D4"]},"legend":null}}},
  {"mark":{"type":"tick","size":40,"thickness":2.5},"encoding":{"x":{"field":"med","type":"quantitative","scale":{"domain":[-3,4.316],"nice":false,"zero":false},"axis":null}}},
  {"mark":{"type":"point","shape":"circle","size":25,"strokeWidth":1.3,"opacity":1},"encoding":{"x":{"field":"mean","type":"quantitative","scale":{"domain":[-3,4.316],"nice":false,"zero":false},"axis":null},"fill":{"value":"white"},"stroke":{"value":"black"}}},
  {"mark":{"type":"text","fontSize":18},"encoding":{"x":{"datum":-2.5,"type":"quantitative","scale":{"domain":[-3,4.316],"nice":false,"zero":false},"axis":null},"text":{"field":"n"},"color":{"value":"black"}}},
  {"mark":{"type":"text","fontSize":20},"encoding":{"x":{"datum":2.94,"type":"quantitative","scale":{"domain":[-3,4.316],"nice":false,"zero":false},"axis":null},"text":{"field":"pct"}}}]}
]},
{"width":509,"height":{"step":55},"resolve":{"scale":{"x":"independent"}},"layer":[
 {"data":{"name":"strips"},"transform":[{"filter":"datum.grp=='Raw material'"}],"layer":[
  {"mark":{"type":"rect","fill":"#EBEBEB"},"encoding":{"x":{"datum":4,"type":"quantitative","scale":{"domain":[-3,4.316],"nice":false,"zero":false},"axis":null},"x2":{"datum":4.316}}},
  {"mark":{"type":"rule","color":"#333","strokeWidth":1.5},"encoding":{"x":{"datum":4,"type":"quantitative","scale":{"domain":[-3,4.316],"nice":false,"zero":false},"axis":null}}},
  {"mark":{"type":"text","angle":90,"fontSize":20,"color":"#111","baseline":"middle"},"encoding":{"x":{"datum":4.158,"type":"quantitative","scale":{"domain":[-3,4.316],"nice":false,"zero":false},"axis":null},"text":{"field":"grp"}}}]},
 {"data":{"name":"strips"},"transform":[{"filter":"datum.grp=='Raw material'"}],"mark":{"type":"rule","color":"#FF0000","strokeDash":[6,4],"strokeWidth":1.5},"encoding":{"x":{"datum":0,"type":"quantitative","scale":{"domain":[-1,6.316],"nice":false,"zero":false},"axis":null}}},
 {"data":{"name":"B"},"transform":[{"filter":"datum.grp=='Raw material'"}],"encoding":{"y":{"field":"cat","type":"nominal","scale":{"type":"band","domain":["WB","CH","CS","OW"],"paddingInner":0,"paddingOuter":0.1},"axis":{"title":null,"tickSize":5,"labelPadding":2}},"color":{"field":"cat","type":"nominal","scale":{"domain":["All","WB","CH","CS","OW","MEG","MOD","LOW","Woods","Field","Pot","Incubation"],"range":["#F28B93","#77AC1C","#8B2BE2","#F5821F","#7CFC00","#E8A50E","#0000FF","#1EEB1E","#D65DB1","#1DE89B","#14E3F2","#3272D4"]},"legend":null}},"layer":[
  {"mark":{"type":"rule","strokeWidth":1.5},"encoding":{"x":{"field":"lo","type":"quantitative","scale":{"domain":[-1,6.316],"nice":false,"zero":false},"axis":null},"x2":{"field":"hi"}}},
  {"mark":{"type":"tick","size":12,"thickness":1.5},"encoding":{"x":{"field":"lo","type":"quantitative","scale":{"domain":[-1,6.316],"nice":false,"zero":false},"axis":null}}},
  {"mark":{"type":"tick","size":12,"thickness":1.5},"encoding":{"x":{"field":"hi","type":"quantitative","scale":{"domain":[-1,6.316],"nice":false,"zero":false},"axis":null}}},
  {"mark":{"type":"point","shape":"diamond","filled":true,"size":220,"opacity":1},"encoding":{"x":{"field":"es","type":"quantitative","scale":{"domain":[-1,6.316],"nice":false,"zero":false},"axis":null}}}]},
 {"data":{"name":"B"},"transform":[{"filter":"datum.grp=='Raw material'"}],"encoding":{"y":{"field":"cat","type":"nominal","scale":{"type":"band","domain":["WB","CH","CS","OW"],"paddingInner":0,"paddingOuter":0.1},"axis":{"title":null,"tickSize":5,"labelPadding":2}},"color":{"field":"cat","type":"nominal","scale":{"domain":["All","WB","CH","CS","OW","MEG","MOD","LOW","Woods","Field","Pot","Incubation"],"range":["#F28B93","#77AC1C","#8B2BE2","#F5821F","#7CFC00","#E8A50E","#0000FF","#1EEB1E","#D65DB1","#1DE89B","#14E3F2","#3272D4"]},"legend":null}},"layer":[
  {"mark":{"type":"rule","strokeWidth":1.5},"encoding":{"x":{"field":"lw","type":"quantitative","scale":{"domain":[-3,4.316],"nice":false,"zero":false},"axis":null},"x2":{"field":"uw"}}},
  {"mark":{"type":"tick","size":24,"thickness":1.5},"encoding":{"x":{"field":"lw","type":"quantitative","scale":{"domain":[-3,4.316],"nice":false,"zero":false},"axis":null}}},
  {"mark":{"type":"tick","size":24,"thickness":1.5},"encoding":{"x":{"field":"uw","type":"quantitative","scale":{"domain":[-3,4.316],"nice":false,"zero":false},"axis":null}}},
  {"mark":{"type":"bar","size":40,"strokeWidth":1.5},"encoding":{"x":{"field":"q1","type":"quantitative","scale":{"domain":[-3,4.316],"nice":false,"zero":false},"axis":null},"x2":{"field":"q3"},"fill":{"value":"white"},"stroke":{"field":"cat","type":"nominal","scale":{"domain":["All","WB","CH","CS","OW","MEG","MOD","LOW","Woods","Field","Pot","Incubation"],"range":["#F28B93","#77AC1C","#8B2BE2","#F5821F","#7CFC00","#E8A50E","#0000FF","#1EEB1E","#D65DB1","#1DE89B","#14E3F2","#3272D4"]},"legend":null}}},
  {"mark":{"type":"tick","size":40,"thickness":2.5},"encoding":{"x":{"field":"med","type":"quantitative","scale":{"domain":[-3,4.316],"nice":false,"zero":false},"axis":null}}},
  {"mark":{"type":"point","shape":"circle","size":25,"strokeWidth":1.3,"opacity":1},"encoding":{"x":{"field":"mean","type":"quantitative","scale":{"domain":[-3,4.316],"nice":false,"zero":false},"axis":null},"fill":{"value":"white"},"stroke":{"value":"black"}}},
  {"mark":{"type":"text","fontSize":18},"encoding":{"x":{"datum":-2.5,"type":"quantitative","scale":{"domain":[-3,4.316],"nice":false,"zero":false},"axis":null},"text":{"field":"n"},"color":{"value":"black"}}},
  {"mark":{"type":"text","fontSize":20},"encoding":{"x":{"datum":2.94,"type":"quantitative","scale":{"domain":[-3,4.316],"nice":false,"zero":false},"axis":null},"text":{"field":"pct"}}},
  {"data":{"name":"Bbr"},"transform":[{"filter":"datum.grp=='Raw material'"}],"layer":[
   {"mark":{"type":"rule","strokeWidth":1.5},"encoding":{"x":{"field":"bx","type":"quantitative","scale":{"domain":[-3,4.316],"nice":false,"zero":false},"axis":null},"y":{"field":"c1","type":"nominal","scale":{"type":"band","domain":["WB","CH","CS","OW"],"paddingInner":0,"paddingOuter":0.1},"axis":{"title":null,"tickSize":5,"labelPadding":2}},"y2":{"field":"c2"},"color":{"value":"black"}}},
   {"mark":{"type":"rule","strokeWidth":1.5},"encoding":{"x":{"field":"bx0","type":"quantitative","scale":{"domain":[-3,4.316],"nice":false,"zero":false},"axis":null},"x2":{"field":"bx"},"y":{"field":"c1","type":"nominal","scale":{"type":"band","domain":["WB","CH","CS","OW"],"paddingInner":0,"paddingOuter":0.1},"axis":{"title":null,"tickSize":5,"labelPadding":2}},"color":{"value":"black"}}},
   {"mark":{"type":"rule","strokeWidth":1.5},"encoding":{"x":{"field":"bx0","type":"quantitative","scale":{"domain":[-3,4.316],"nice":false,"zero":false},"axis":null},"x2":{"field":"bx"},"y":{"field":"c2","type":"nominal","scale":{"type":"band","domain":["WB","CH","CS","OW"],"paddingInner":0,"paddingOuter":0.1},"axis":{"title":null,"tickSize":5,"labelPadding":2}},"color":{"value":"black"}}},
   {"transform":[{"filter":"datum.half==0"}],"mark":{"type":"text","fontSize":16,"angle":90,"baseline":"middle"},"encoding":{"x":{"field":"sx","type":"quantitative","scale":{"domain":[-3,4.316],"nice":false,"zero":false},"axis":null},"y":{"field":"sc","type":"nominal","scale":{"type":"band","domain":["WB","CH","CS","OW"],"paddingInner":0,"paddingOuter":0.1},"axis":{"title":null,"tickSize":5,"labelPadding":2}},"text":{"field":"star"},"color":{"value":"black"}}},
   {"transform":[{"filter":"datum.half==1"}],"mark":{"type":"text","fontSize":16,"angle":90,"baseline":"middle","dx":27.5},"encoding":{"x":{"field":"sx","type":"quantitative","scale":{"domain":[-3,4.316],"nice":false,"zero":false},"axis":null},"y":{"field":"sc","type":"nominal","scale":{"type":"band","domain":["WB","CH","CS","OW"],"paddingInner":0,"paddingOuter":0.1},"axis":{"title":null,"tickSize":5,"labelPadding":2}},"text":{"field":"star"},"color":{"value":"black"}}}]}]}
]},
{"width":509,"height":{"step":55},"resolve":{"scale":{"x":"independent"}},"layer":[
 {"data":{"name":"strips"},"transform":[{"filter":"datum.grp=='Temperature'"}],"layer":[
  {"mark":{"type":"rect","fill":"#EBEBEB"},"encoding":{"x":{"datum":4,"type":"quantitative","scale":{"domain":[-3,4.316],"nice":false,"zero":false},"axis":null},"x2":{"datum":4.316}}},
  {"mark":{"type":"rule","color":"#333","strokeWidth":1.5},"encoding":{"x":{"datum":4,"type":"quantitative","scale":{"domain":[-3,4.316],"nice":false,"zero":false},"axis":null}}},
  {"mark":{"type":"text","angle":90,"fontSize":20,"color":"#111","baseline":"middle"},"encoding":{"x":{"datum":4.158,"type":"quantitative","scale":{"domain":[-3,4.316],"nice":false,"zero":false},"axis":null},"text":{"field":"grp"}}}]},
 {"data":{"name":"strips"},"transform":[{"filter":"datum.grp=='Temperature'"}],"mark":{"type":"rule","color":"#FF0000","strokeDash":[6,4],"strokeWidth":1.5},"encoding":{"x":{"datum":0,"type":"quantitative","scale":{"domain":[-1,6.316],"nice":false,"zero":false},"axis":null}}},
 {"data":{"name":"B"},"transform":[{"filter":"datum.grp=='Temperature'"}],"encoding":{"y":{"field":"cat","type":"nominal","scale":{"type":"band","domain":["MEG","MOD","LOW"],"paddingInner":0,"paddingOuter":0.1},"axis":{"title":null,"tickSize":5,"labelPadding":2}},"color":{"field":"cat","type":"nominal","scale":{"domain":["All","WB","CH","CS","OW","MEG","MOD","LOW","Woods","Field","Pot","Incubation"],"range":["#F28B93","#77AC1C","#8B2BE2","#F5821F","#7CFC00","#E8A50E","#0000FF","#1EEB1E","#D65DB1","#1DE89B","#14E3F2","#3272D4"]},"legend":null}},"layer":[
  {"mark":{"type":"rule","strokeWidth":1.5},"encoding":{"x":{"field":"lo","type":"quantitative","scale":{"domain":[-1,6.316],"nice":false,"zero":false},"axis":null},"x2":{"field":"hi"}}},
  {"mark":{"type":"tick","size":12,"thickness":1.5},"encoding":{"x":{"field":"lo","type":"quantitative","scale":{"domain":[-1,6.316],"nice":false,"zero":false},"axis":null}}},
  {"mark":{"type":"tick","size":12,"thickness":1.5},"encoding":{"x":{"field":"hi","type":"quantitative","scale":{"domain":[-1,6.316],"nice":false,"zero":false},"axis":null}}},
  {"mark":{"type":"point","shape":"diamond","filled":true,"size":220,"opacity":1},"encoding":{"x":{"field":"es","type":"quantitative","scale":{"domain":[-1,6.316],"nice":false,"zero":false},"axis":null}}}]},
 {"data":{"name":"B"},"transform":[{"filter":"datum.grp=='Temperature'"}],"encoding":{"y":{"field":"cat","type":"nominal","scale":{"type":"band","domain":["MEG","MOD","LOW"],"paddingInner":0,"paddingOuter":0.1},"axis":{"title":null,"tickSize":5,"labelPadding":2}},"color":{"field":"cat","type":"nominal","scale":{"domain":["All","WB","CH","CS","OW","MEG","MOD","LOW","Woods","Field","Pot","Incubation"],"range":["#F28B93","#77AC1C","#8B2BE2","#F5821F","#7CFC00","#E8A50E","#0000FF","#1EEB1E","#D65DB1","#1DE89B","#14E3F2","#3272D4"]},"legend":null}},"layer":[
  {"mark":{"type":"rule","strokeWidth":1.5},"encoding":{"x":{"field":"lw","type":"quantitative","scale":{"domain":[-3,4.316],"nice":false,"zero":false},"axis":null},"x2":{"field":"uw"}}},
  {"mark":{"type":"tick","size":24,"thickness":1.5},"encoding":{"x":{"field":"lw","type":"quantitative","scale":{"domain":[-3,4.316],"nice":false,"zero":false},"axis":null}}},
  {"mark":{"type":"tick","size":24,"thickness":1.5},"encoding":{"x":{"field":"uw","type":"quantitative","scale":{"domain":[-3,4.316],"nice":false,"zero":false},"axis":null}}},
  {"mark":{"type":"bar","size":40,"strokeWidth":1.5},"encoding":{"x":{"field":"q1","type":"quantitative","scale":{"domain":[-3,4.316],"nice":false,"zero":false},"axis":null},"x2":{"field":"q3"},"fill":{"value":"white"},"stroke":{"field":"cat","type":"nominal","scale":{"domain":["All","WB","CH","CS","OW","MEG","MOD","LOW","Woods","Field","Pot","Incubation"],"range":["#F28B93","#77AC1C","#8B2BE2","#F5821F","#7CFC00","#E8A50E","#0000FF","#1EEB1E","#D65DB1","#1DE89B","#14E3F2","#3272D4"]},"legend":null}}},
  {"mark":{"type":"tick","size":40,"thickness":2.5},"encoding":{"x":{"field":"med","type":"quantitative","scale":{"domain":[-3,4.316],"nice":false,"zero":false},"axis":null}}},
  {"mark":{"type":"point","shape":"circle","size":25,"strokeWidth":1.3,"opacity":1},"encoding":{"x":{"field":"mean","type":"quantitative","scale":{"domain":[-3,4.316],"nice":false,"zero":false},"axis":null},"fill":{"value":"white"},"stroke":{"value":"black"}}},
  {"mark":{"type":"text","fontSize":18},"encoding":{"x":{"datum":-2.5,"type":"quantitative","scale":{"domain":[-3,4.316],"nice":false,"zero":false},"axis":null},"text":{"field":"n"},"color":{"value":"black"}}},
  {"mark":{"type":"text","fontSize":20},"encoding":{"x":{"datum":2.94,"type":"quantitative","scale":{"domain":[-3,4.316],"nice":false,"zero":false},"axis":null},"text":{"field":"pct"}}}]}
]},
{"width":509,"height":{"step":55},"resolve":{"scale":{"x":"independent"}},"layer":[
 {"data":{"name":"strips"},"transform":[{"filter":"datum.grp=='Treatment conditions'"}],"layer":[
  {"mark":{"type":"rect","fill":"#EBEBEB"},"encoding":{"x":{"datum":4,"type":"quantitative","scale":{"domain":[-3,4.316],"nice":false,"zero":false},"axis":null},"x2":{"datum":4.316}}},
  {"mark":{"type":"rule","color":"#333","strokeWidth":1.5},"encoding":{"x":{"datum":4,"type":"quantitative","scale":{"domain":[-3,4.316],"nice":false,"zero":false},"axis":null}}},
  {"mark":{"type":"text","angle":90,"fontSize":20,"color":"#111","baseline":"middle"},"encoding":{"x":{"datum":4.158,"type":"quantitative","scale":{"domain":[-3,4.316],"nice":false,"zero":false},"axis":null},"text":{"field":"grp"}}}]},
 {"data":{"name":"strips"},"transform":[{"filter":"datum.grp=='Treatment conditions'"}],"mark":{"type":"rule","color":"#FF0000","strokeDash":[6,4],"strokeWidth":1.5},"encoding":{"x":{"datum":0,"type":"quantitative","scale":{"domain":[-1,6.316],"nice":false,"zero":false},"axis":null}}},
 {"data":{"name":"B"},"transform":[{"filter":"datum.grp=='Treatment conditions'"}],"encoding":{"y":{"field":"cat","type":"nominal","scale":{"type":"band","domain":["Woods","Field","Pot","Incubation"],"paddingInner":0,"paddingOuter":0.1},"axis":{"title":null,"tickSize":5,"labelPadding":2}},"color":{"field":"cat","type":"nominal","scale":{"domain":["All","WB","CH","CS","OW","MEG","MOD","LOW","Woods","Field","Pot","Incubation"],"range":["#F28B93","#77AC1C","#8B2BE2","#F5821F","#7CFC00","#E8A50E","#0000FF","#1EEB1E","#D65DB1","#1DE89B","#14E3F2","#3272D4"]},"legend":null}},"layer":[
  {"mark":{"type":"rule","strokeWidth":1.5},"encoding":{"x":{"field":"lo","type":"quantitative","scale":{"domain":[-1,6.316],"nice":false,"zero":false},"axis":null},"x2":{"field":"hi"}}},
  {"mark":{"type":"tick","size":12,"thickness":1.5},"encoding":{"x":{"field":"lo","type":"quantitative","scale":{"domain":[-1,6.316],"nice":false,"zero":false},"axis":null}}},
  {"mark":{"type":"tick","size":12,"thickness":1.5},"encoding":{"x":{"field":"hi","type":"quantitative","scale":{"domain":[-1,6.316],"nice":false,"zero":false},"axis":null}}},
  {"mark":{"type":"point","shape":"diamond","filled":true,"size":220,"opacity":1},"encoding":{"x":{"field":"es","type":"quantitative","scale":{"domain":[-1,6.316],"nice":false,"zero":false},"axis":null}}}]},
 {"data":{"name":"B"},"transform":[{"filter":"datum.grp=='Treatment conditions'"}],"encoding":{"y":{"field":"cat","type":"nominal","scale":{"type":"band","domain":["Woods","Field","Pot","Incubation"],"paddingInner":0,"paddingOuter":0.1},"axis":{"title":null,"tickSize":5,"labelPadding":2}},"color":{"field":"cat","type":"nominal","scale":{"domain":["All","WB","CH","CS","OW","MEG","MOD","LOW","Woods","Field","Pot","Incubation"],"range":["#F28B93","#77AC1C","#8B2BE2","#F5821F","#7CFC00","#E8A50E","#0000FF","#1EEB1E","#D65DB1","#1DE89B","#14E3F2","#3272D4"]},"legend":null}},"layer":[
  {"mark":{"type":"rule","strokeWidth":1.5},"encoding":{"x":{"field":"lw","type":"quantitative","scale":{"domain":[-3,4.316],"nice":false,"zero":false},"axis":{"orient":"bottom","values":[-3,-2,-1,0,1,2,3,4],"labelExpr":"replace(format(datum.value,'d'),'\u2212','-')","title":"Response ratio(RR(SOC))","tickSize":5,"labelPadding":3,"titlePadding":2}},"x2":{"field":"uw"}}},
  {"mark":{"type":"tick","size":24,"thickness":1.5},"encoding":{"x":{"field":"lw","type":"quantitative","scale":{"domain":[-3,4.316],"nice":false,"zero":false},"axis":{"orient":"bottom","values":[-3,-2,-1,0,1,2,3,4],"labelExpr":"replace(format(datum.value,'d'),'\u2212','-')","title":"Response ratio(RR(SOC))","tickSize":5,"labelPadding":3,"titlePadding":2}}}},
  {"mark":{"type":"tick","size":24,"thickness":1.5},"encoding":{"x":{"field":"uw","type":"quantitative","scale":{"domain":[-3,4.316],"nice":false,"zero":false},"axis":{"orient":"bottom","values":[-3,-2,-1,0,1,2,3,4],"labelExpr":"replace(format(datum.value,'d'),'\u2212','-')","title":"Response ratio(RR(SOC))","tickSize":5,"labelPadding":3,"titlePadding":2}}}},
  {"mark":{"type":"bar","size":40,"strokeWidth":1.5},"encoding":{"x":{"field":"q1","type":"quantitative","scale":{"domain":[-3,4.316],"nice":false,"zero":false},"axis":{"orient":"bottom","values":[-3,-2,-1,0,1,2,3,4],"labelExpr":"replace(format(datum.value,'d'),'\u2212','-')","title":"Response ratio(RR(SOC))","tickSize":5,"labelPadding":3,"titlePadding":2}},"x2":{"field":"q3"},"fill":{"value":"white"},"stroke":{"field":"cat","type":"nominal","scale":{"domain":["All","WB","CH","CS","OW","MEG","MOD","LOW","Woods","Field","Pot","Incubation"],"range":["#F28B93","#77AC1C","#8B2BE2","#F5821F","#7CFC00","#E8A50E","#0000FF","#1EEB1E","#D65DB1","#1DE89B","#14E3F2","#3272D4"]},"legend":null}}},
  {"mark":{"type":"tick","size":40,"thickness":2.5},"encoding":{"x":{"field":"med","type":"quantitative","scale":{"domain":[-3,4.316],"nice":false,"zero":false},"axis":{"orient":"bottom","values":[-3,-2,-1,0,1,2,3,4],"labelExpr":"replace(format(datum.value,'d'),'\u2212','-')","title":"Response ratio(RR(SOC))","tickSize":5,"labelPadding":3,"titlePadding":2}}}},
  {"mark":{"type":"point","shape":"circle","size":25,"strokeWidth":1.3,"opacity":1},"encoding":{"x":{"field":"mean","type":"quantitative","scale":{"domain":[-3,4.316],"nice":false,"zero":false},"axis":{"orient":"bottom","values":[-3,-2,-1,0,1,2,3,4],"labelExpr":"replace(format(datum.value,'d'),'\u2212','-')","title":"Response ratio(RR(SOC))","tickSize":5,"labelPadding":3,"titlePadding":2}},"fill":{"value":"white"},"stroke":{"value":"black"}}},
  {"mark":{"type":"text","fontSize":18},"encoding":{"x":{"datum":-2.5,"type":"quantitative","scale":{"domain":[-3,4.316],"nice":false,"zero":false},"axis":{"orient":"bottom","values":[-3,-2,-1,0,1,2,3,4],"labelExpr":"replace(format(datum.value,'d'),'\u2212','-')","title":"Response ratio(RR(SOC))","tickSize":5,"labelPadding":3,"titlePadding":2}},"text":{"field":"n"},"color":{"value":"black"}}},
  {"mark":{"type":"text","fontSize":20},"encoding":{"x":{"datum":2.94,"type":"quantitative","scale":{"domain":[-3,4.316],"nice":false,"zero":false},"axis":{"orient":"bottom","values":[-3,-2,-1,0,1,2,3,4],"labelExpr":"replace(format(datum.value,'d'),'\u2212','-')","title":"Response ratio(RR(SOC))","tickSize":5,"labelPadding":3,"titlePadding":2}},"text":{"field":"pct"}}},
  {"data":{"name":"Bbr"},"transform":[{"filter":"datum.grp=='Treatment conditions'"}],"layer":[
   {"mark":{"type":"rule","strokeWidth":1.5},"encoding":{"x":{"field":"bx","type":"quantitative","scale":{"domain":[-3,4.316],"nice":false,"zero":false},"axis":{"orient":"bottom","values":[-3,-2,-1,0,1,2,3,4],"labelExpr":"replace(format(datum.value,'d'),'\u2212','-')","title":"Response ratio(RR(SOC))","tickSize":5,"labelPadding":3,"titlePadding":2}},"y":{"field":"c1","type":"nominal","scale":{"type":"band","domain":["Woods","Field","Pot","Incubation"],"paddingInner":0,"paddingOuter":0.1},"axis":{"title":null,"tickSize":5,"labelPadding":2}},"y2":{"field":"c2"},"color":{"value":"black"}}},
   {"mark":{"type":"rule","strokeWidth":1.5},"encoding":{"x":{"field":"bx0","type":"quantitative","scale":{"domain":[-3,4.316],"nice":false,"zero":false},"axis":{"orient":"bottom","values":[-3,-2,-1,0,1,2,3,4],"labelExpr":"replace(format(datum.value,'d'),'\u2212','-')","title":"Response ratio(RR(SOC))","tickSize":5,"labelPadding":3,"titlePadding":2}},"x2":{"field":"bx"},"y":{"field":"c1","type":"nominal","scale":{"type":"band","domain":["Woods","Field","Pot","Incubation"],"paddingInner":0,"paddingOuter":0.1},"axis":{"title":null,"tickSize":5,"labelPadding":2}},"color":{"value":"black"}}},
   {"mark":{"type":"rule","strokeWidth":1.5},"encoding":{"x":{"field":"bx0","type":"quantitative","scale":{"domain":[-3,4.316],"nice":false,"zero":false},"axis":{"orient":"bottom","values":[-3,-2,-1,0,1,2,3,4],"labelExpr":"replace(format(datum.value,'d'),'\u2212','-')","title":"Response ratio(RR(SOC))","tickSize":5,"labelPadding":3,"titlePadding":2}},"x2":{"field":"bx"},"y":{"field":"c2","type":"nominal","scale":{"type":"band","domain":["Woods","Field","Pot","Incubation"],"paddingInner":0,"paddingOuter":0.1},"axis":{"title":null,"tickSize":5,"labelPadding":2}},"color":{"value":"black"}}},
   {"transform":[{"filter":"datum.half==0"}],"mark":{"type":"text","fontSize":16,"angle":90,"baseline":"middle"},"encoding":{"x":{"field":"sx","type":"quantitative","scale":{"domain":[-3,4.316],"nice":false,"zero":false},"axis":{"orient":"bottom","values":[-3,-2,-1,0,1,2,3,4],"labelExpr":"replace(format(datum.value,'d'),'\u2212','-')","title":"Response ratio(RR(SOC))","tickSize":5,"labelPadding":3,"titlePadding":2}},"y":{"field":"sc","type":"nominal","scale":{"type":"band","domain":["Woods","Field","Pot","Incubation"],"paddingInner":0,"paddingOuter":0.1},"axis":{"title":null,"tickSize":5,"labelPadding":2}},"text":{"field":"star"},"color":{"value":"black"}}},
   {"transform":[{"filter":"datum.half==1"}],"mark":{"type":"text","fontSize":16,"angle":90,"baseline":"middle","dx":27.5},"encoding":{"x":{"field":"sx","type":"quantitative","scale":{"domain":[-3,4.316],"nice":false,"zero":false},"axis":{"orient":"bottom","values":[-3,-2,-1,0,1,2,3,4],"labelExpr":"replace(format(datum.value,'d'),'\u2212','-')","title":"Response ratio(RR(SOC))","tickSize":5,"labelPadding":3,"titlePadding":2}},"y":{"field":"sc","type":"nominal","scale":{"type":"band","domain":["Woods","Field","Pot","Incubation"],"paddingInner":0,"paddingOuter":0.1},"axis":{"title":null,"tickSize":5,"labelPadding":2}},"text":{"field":"star"},"color":{"value":"black"}}}]}]}
]}
]}
],
"spacing":47,
"config":{"font":"Liberation Serif","view":{"stroke":"#333","strokeWidth":1.5},"axis":{"labelFont":"Liberation Serif","titleFont":"Liberation Serif","labelFontSize":20,"titleFontSize":24,"titleFontWeight":"normal","labelColor":"#333","titleColor":"#111","grid":false,"domain":false,"tickColor":"#333","tickWidth":1.3,"labelFlush":false,"labelOverlap":false}}
}
